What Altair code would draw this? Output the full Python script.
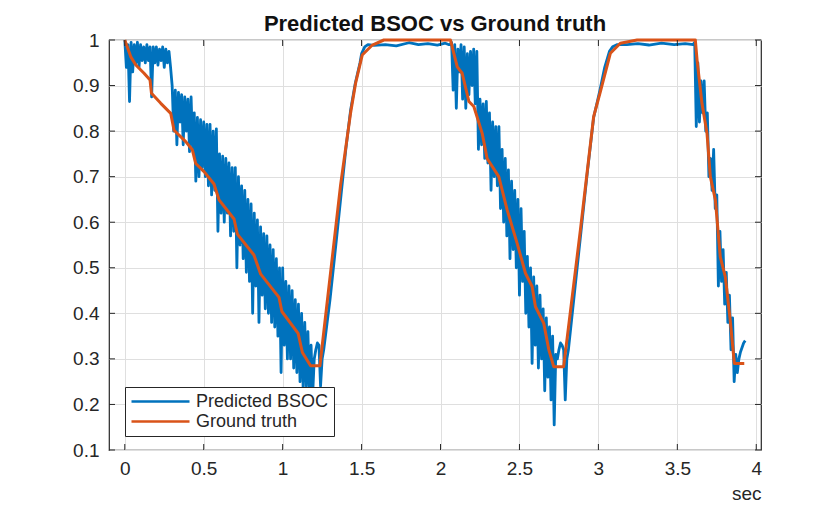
import altair as alt
import pandas as pd

FONT = "Liberation Sans"
INK = "#262626"
BLUE = "#0072BD"
ORANGE = "#D95319"
SERIES = ["Predicted BSOC", "Ground truth"]
TITLE = "Predicted BSOC vs Ground truth"

# ground truth (sec, BSOC)
TRUTH_T = [0.0, 0.038, 0.07, 0.122, 0.16, 0.169, 0.228, 0.291, 0.312, 0.386,
           0.428, 0.449, 0.502, 0.565, 0.597, 0.692, 0.713, 0.818, 0.861, 0.977,
           0.995, 1.098, 1.125, 1.177, 1.236, 1.367, 1.399, 1.43, 1.462, 1.504,
           1.568, 1.641, 2.063, 2.106, 2.137, 2.18, 2.211, 2.264, 2.295, 2.369,
           2.422, 2.485, 2.538, 2.58, 2.601, 2.654, 2.686, 2.717, 2.78, 2.886,
           2.97, 3.013, 3.076, 3.139, 3.245, 3.614, 3.625, 3.656, 3.688, 3.709,
           3.741, 3.772, 3.804, 3.835, 3.861, 3.924]
TRUTH_V = [1.0, 0.963, 0.945, 0.927, 0.912, 0.883, 0.861, 0.839, 0.802, 0.777,
           0.759, 0.729, 0.711, 0.684, 0.649, 0.607, 0.574, 0.528, 0.486, 0.435,
           0.404, 0.356, 0.314, 0.285, 0.285, 0.682, 0.762, 0.839, 0.905, 0.967,
           0.989, 1.0, 1.0, 0.941, 0.927, 0.865, 0.854, 0.795, 0.74, 0.70,
           0.627, 0.554, 0.488, 0.459, 0.415, 0.378, 0.32, 0.283, 0.283, 0.583,
           0.832, 0.887, 0.971, 0.993, 1.0, 1.0, 0.956, 0.861, 0.795, 0.70,
           0.649, 0.524, 0.48, 0.385, 0.29, 0.29]

# predicted BSOC, noisy discharge parts sampled every 10 ms
STEP = 0.01
DROP1_START = 0.0
DROP1_V = [1.00, 0.94, 0.99, 0.865, 0.995, 0.93, 0.99, 0.95, 0.995, 0.94,
           0.99, 0.955, 0.985, 0.95, 0.99, 0.955, 0.985, 0.875, 0.985, 0.95,
           0.985, 0.945, 0.98, 0.955, 0.985, 0.94, 0.98, 0.95, 0.975, 0.94,
           0.90, 0.80, 0.89, 0.77, 0.885, 0.82, 0.88, 0.77, 0.875, 0.80,
           0.87, 0.755, 0.875, 0.76, 0.84, 0.69, 0.83, 0.70, 0.825, 0.72,
           0.82, 0.70, 0.815, 0.68, 0.815, 0.66, 0.80, 0.67, 0.805, 0.58,
           0.75, 0.62, 0.745, 0.60, 0.74, 0.62, 0.73, 0.57, 0.72, 0.58,
           0.72, 0.50, 0.70, 0.55, 0.68, 0.52, 0.67, 0.49, 0.65, 0.47,
           0.64, 0.40, 0.62, 0.46, 0.605, 0.38, 0.59, 0.44, 0.575, 0.41,
           0.57, 0.40, 0.55, 0.38, 0.54, 0.37, 0.52, 0.35, 0.50, 0.27,
           0.50, 0.33, 0.47, 0.30, 0.46, 0.30, 0.45, 0.28, 0.43, 0.27,
           0.42, 0.25, 0.40, 0.23, 0.38, 0.24, 0.36, 0.22, 0.33, 0.22,
           0.30, 0.32, 0.335, 0.33, 0.24, 0.30, 0.32]
DROP2_START = 2.06
DROP2_V = [0.99, 0.995, 0.89, 0.99, 0.85, 0.98, 0.93, 0.99, 0.87, 0.985,
           0.85, 0.97, 0.88, 0.975, 0.90, 0.98, 0.86, 0.975, 0.76, 0.87,
           0.77, 0.86, 0.74, 0.865, 0.73, 0.84, 0.67, 0.82, 0.70, 0.81,
           0.68, 0.81, 0.63, 0.76, 0.60, 0.74, 0.57, 0.715, 0.52, 0.69,
           0.54, 0.67, 0.50, 0.65, 0.44, 0.63, 0.47, 0.58, 0.40, 0.525,
           0.37, 0.50, 0.29, 0.48, 0.33, 0.46, 0.28, 0.44, 0.30, 0.41,
           0.23, 0.39, 0.26, 0.37, 0.21, 0.35, 0.155, 0.31, 0.30, 0.32,
           0.335, 0.33, 0.32, 0.21, 0.30]
DROP3_START = 3.61
DROP3_V = [0.995, 0.81, 0.95, 0.82, 0.91, 0.84, 0.91, 0.80, 0.84, 0.70,
           0.74, 0.67, 0.76, 0.63, 0.66, 0.46, 0.58, 0.47, 0.54, 0.42,
           0.49, 0.38, 0.44, 0.32, 0.39, 0.25, 0.31, 0.27, 0.30, 0.315,
           0.325, 0.335, 0.34]

# predicted BSOC, charging ramps and full plateaus
RISE1_T = [1.30, 1.34, 1.37, 1.40, 1.43, 1.46, 1.49, 1.50, 1.52, 1.54,
           1.58, 1.65, 1.72, 1.80, 1.86, 1.92, 1.98, 2.03, 2.05]
RISE1_V = [0.43, 0.56, 0.66, 0.76, 0.845, 0.905, 0.95, 0.97, 0.985, 0.99,
           0.988, 0.99, 0.987, 0.994, 0.99, 0.992, 0.989, 0.993, 0.99]
RISE2_T = [2.81, 2.85, 2.89, 2.93, 2.97, 3.01, 3.04, 3.07, 3.09, 3.12,
           3.18, 3.25, 3.32, 3.40, 3.48, 3.55, 3.60]
RISE2_V = [0.32, 0.45, 0.58, 0.71, 0.83, 0.89, 0.94, 0.975, 0.985, 0.99,
           0.99, 0.992, 0.989, 0.993, 0.99, 0.992, 0.99]

X_TICKS = [0, 0.5, 1, 1.5, 2, 2.5, 3, 3.5, 4]
Y_TICKS = [0.1, 0.2, 0.3, 0.4, 0.5, 0.6, 0.7, 0.8, 0.9, 1.0]


def sampled(start, values):
    return [(round(start + i * STEP, 3), v) for i, v in enumerate(values)]


pred = (sampled(DROP1_START, DROP1_V) + list(zip(RISE1_T, RISE1_V))
        + sampled(DROP2_START, DROP2_V) + list(zip(RISE2_T, RISE2_V))
        + sampled(DROP3_START, DROP3_V))
pred_df = pd.DataFrame(pred, columns=["t", "v"]).assign(s=SERIES[0])
truth_df = pd.DataFrame({"t": TRUTH_T, "v": TRUTH_V, "s": SERIES[1]})

W, H = 652, 410
x_scale = alt.Scale(domain=[-0.1, 4.03], nice=False, zero=False)
y_scale = alt.Scale(domain=[0.1, 1.0], nice=False, zero=False)
x_axis = alt.Axis(values=X_TICKS, format="~g", labelPadding=9, title="sec",
                  titleX=W, titleY=49, titleAlign="right",
                  titleBaseline="alphabetic")
y_axis = alt.Axis(values=Y_TICKS, format="~g", labelPadding=10, title=None)
x_enc = alt.X("t:Q", scale=x_scale, axis=x_axis)
y_enc = alt.Y("v:Q", scale=y_scale, axis=y_axis)

legend = alt.Legend(
    title=None, orient="none", legendX=16, legendY=347,
    symbolType="stroke", symbolSize=3364, symbolStrokeWidth=2.5,
    labelFont=FONT, labelFontSize=18, labelColor=INK, labelOffset=5,
    fillColor="white", strokeColor=INK, padding=5, clipHeight=19,
    rowPadding=1,
)
color = alt.Color("s:N", scale=alt.Scale(domain=SERIES, range=[BLUE, ORANGE]),
                  legend=legend)

blue = alt.Chart(pred_df).mark_line(strokeWidth=2.8, strokeJoin="round").encode(
    x_enc, y_enc, color
)
orange = alt.Chart(truth_df).mark_line(strokeWidth=3, strokeJoin="round").encode(
    x_enc, y_enc, color
)

xt = pd.DataFrame({"t": X_TICKS})
yt = pd.DataFrame({"v": Y_TICKS})
tick = dict(color=INK, strokeWidth=1)
ticks = [
    alt.Chart(xt).mark_rule(**tick).encode(x_enc, y=alt.value(H), y2=alt.value(H - 6)),
    alt.Chart(xt).mark_rule(**tick).encode(x_enc, y=alt.value(0), y2=alt.value(6)),
    alt.Chart(yt).mark_rule(**tick).encode(y_enc, x=alt.value(0), x2=alt.value(6)),
    alt.Chart(yt).mark_rule(**tick).encode(y_enc, x=alt.value(W), x2=alt.value(W - 6)),
]

# chart title drawn as a text mark centred over the axes box
title = alt.Chart(pd.DataFrame({"label": [TITLE]})).mark_text(
    font=FONT, fontSize=22, fontWeight="bold", color="#111111",
    align="center", baseline="alphabetic",
).encode(text="label:N", x=alt.value(W / 2), y=alt.value(-9))

chart = (
    alt.layer(blue, orange, *ticks, title)
    .properties(
        width=W, height=H,
        autosize=alt.AutoSizeParams(type="none"),
        padding={"left": 101, "top": 32, "right": 40, "bottom": 58},
    )
    .configure_view(stroke=INK, strokeWidth=1.2)
    .configure_axis(
        domain=False, ticks=False, tickSize=0, grid=True, gridColor="#dfdfdf",
        gridWidth=1, labelFont=FONT, labelFontSize=19, labelColor=INK,
        titleFont=FONT, titleFontSize=19, titleFontWeight="normal",
        titleColor=INK,
    )
)

chart.save("out.html", embed_options={"renderer": "svg", "actions": False})
